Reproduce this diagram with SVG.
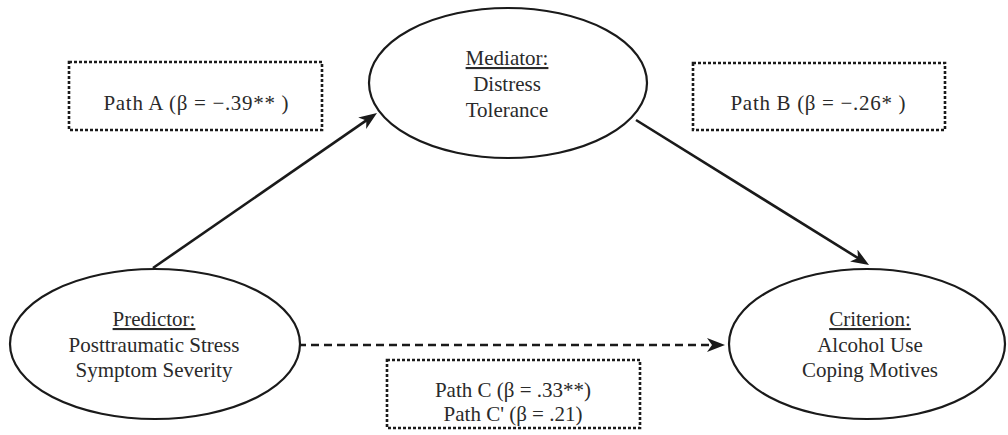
<svg xmlns="http://www.w3.org/2000/svg" width="1008" height="435" viewBox="0 0 1008 435">
<style>
.node ellipse{fill:#fff;stroke:#1a1a1a;stroke-width:2.2}
.t{font-family:'Liberation Serif','Times New Roman',serif;font-size:21px;fill:#2a2a2a;text-anchor:middle}
.u{text-decoration:underline}
.box{fill:none;stroke:#1a1a1a;stroke-width:2.6;stroke-dasharray:3 2}
.edge{fill:none;stroke:#1a1a1a;stroke-width:2.6}
.dash{stroke-dasharray:8 5}
</style>
<defs>
<marker id="ah" markerUnits="userSpaceOnUse" markerWidth="18" markerHeight="14" refX="9" refY="7" orient="auto">
<path d="M0,0 L18,7 L0,14 L5,7 z" fill="#1a1a1a"/>
</marker>
</defs>
<rect width="1008" height="435" fill="#fff"/>
<g id="connectors">
<line class="edge" x1="153" y1="268" x2="369.6" y2="118.1" marker-end="url(#ah)"/>
<line class="edge" x1="636" y1="120" x2="861.4" y2="260.2" marker-end="url(#ah)"/>
<line class="edge dash" x1="298" y1="345" x2="716" y2="345" marker-end="url(#ah)"/>
</g>
<g id="mediator" class="node">
<ellipse cx="508" cy="83" rx="139" ry="75"/>
<text class="t u" x="507" y="65">Mediator:</text>
<text class="t" x="507" y="91">Distress</text>
<text class="t" x="507" y="117">Tolerance</text>
</g>
<g id="predictor" class="node">
<ellipse cx="155" cy="344" rx="145" ry="75"/>
<text class="t u" x="154" y="326">Predictor:</text>
<text class="t" x="154" y="352">Posttraumatic Stress</text>
<text class="t" x="154" y="377">Symptom Severity</text>
</g>
<g id="criterion" class="node">
<ellipse cx="867" cy="344" rx="138" ry="75"/>
<text class="t u" x="870" y="326">Criterion:</text>
<text class="t" x="870" y="352">Alcohol Use</text>
<text class="t" x="870" y="377">Coping Motives</text>
</g>
<g id="pathA">
<rect class="box" x="69" y="62" width="253" height="68"/>
<text class="t" x="196" y="110" textLength="185">Path A (β = −.39** )</text>
</g>
<g id="pathB">
<rect class="box" x="693" y="63" width="252" height="67"/>
<text class="t" x="818" y="110" textLength="175">Path B (β = −.26* )</text>
</g>
<g id="pathC">
<rect class="box" x="387" y="360" width="253" height="68"/>
<text class="t" x="513" y="397">Path C (β = .33**)</text>
<text class="t" x="513" y="421">Path C' (β = .21)</text>
</g>
</svg>
